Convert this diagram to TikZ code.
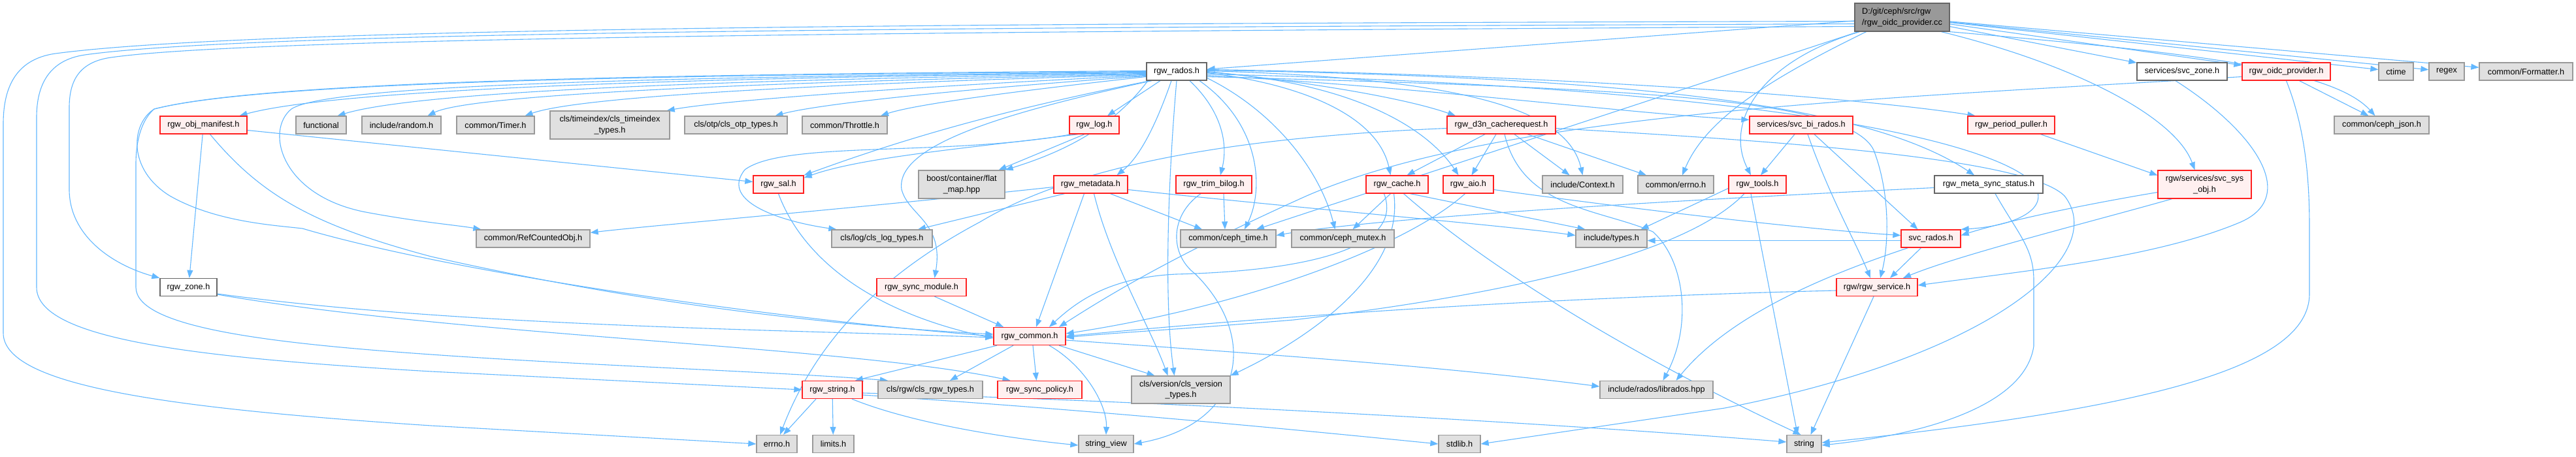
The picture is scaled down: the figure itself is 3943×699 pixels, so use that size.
\documentclass[tikz,border=0pt]{standalone}
\usepackage{fontspec}
\setmainfont{Liberation Sans}
\usetikzlibrary{arrows.meta}
\definecolor{edgec}{HTML}{63B8FF}
\definecolor{redfill}{HTML}{FFF0F0}
\definecolor{redline}{HTML}{FF2020}
\definecolor{extfill}{HTML}{E0E0E0}
\definecolor{extline}{HTML}{999999}
\definecolor{whiteline}{HTML}{666666}
\definecolor{rootfill}{HTML}{999999}
\pgfdeclarelayer{bg}
\pgfsetlayers{bg,main}
\begin{document}
\begin{tikzpicture}[x=1pt,y=-1pt,
  nbase/.style={line width=1.3pt, inner sep=0pt, align=center, font=\fontsize{12.7}{16.5}\selectfont, minimum height=27pt},
  redbox/.style={nbase, draw=redline, fill=redfill},
  extbox/.style={nbase, draw=extline, fill=extfill},
  whitebox/.style={nbase, draw=whiteline, fill=white},
  rootbox/.style={nbase, draw=whiteline, fill=rootfill, align=left},
  e/.style={draw=edgec, line width=1.1pt, -{Triangle[length=12pt,width=9pt]}}
]
\useasboundingbox (0,0) rectangle (3943,699);

% row A
\node[rootbox, minimum width=145pt, minimum height=43pt] (root) at (2911.5,26.5) {D:/git/ceph/src/rgw\\/rgw\_oidc\_provider.cc};
% row B
\node[whitebox, minimum width=92pt] (rados) at (1801,109.5) {rgw\_rados.h};
\node[whitebox, minimum width=138pt] (svczone) at (3340,109.5) {services/svc\_zone.h};
\node[redbox, minimum width=135pt] (oidch) at (3499.5,109.5) {rgw\_oidc\_provider.h};
\node[extbox, minimum width=53pt] (ctime) at (3667.5,109.5) {ctime};
\node[extbox, minimum width=54pt] (regex) at (3745,109.5) {regex};
\node[extbox, minimum width=143pt] (formatter) at (3866.5,109.5) {common/Formatter.h};
% row C
\node[redbox, minimum width=133pt] (manifest) at (311.5,191.5) {rgw\_obj\_manifest.h};
\node[extbox, minimum width=77pt] (functional) at (491.5,191.5) {functional};
\node[extbox, minimum width=121pt] (random) at (614.5,191.5) {include/random.h};
\node[extbox, minimum width=119pt] (timer) at (758.5,191.5) {common/Timer.h};
\node[extbox, minimum width=183pt, minimum height=43pt] (timeindex) at (933.5,191.5) {cls/timeindex/cls\_timeindex\\\_types.h};
\node[extbox, minimum width=157pt] (otp) at (1126.5,191.5) {cls/otp/cls\_otp\_types.h};
\node[extbox, minimum width=130pt] (throttle) at (1293,191.5) {common/Throttle.h};
\node[redbox, minimum width=76pt] (log) at (1675,191.5) {rgw\_log.h};
\node[redbox, minimum width=166pt] (d3n) at (2298,191.5) {rgw\_d3n\_cacherequest.h};
\node[redbox, minimum width=158pt] (birados) at (2757,191.5) {services/svc\_bi\_rados.h};
\node[redbox, minimum width=133pt] (puller) at (3078.5,191.5) {rgw\_period\_puller.h};
\node[extbox, minimum width=145pt] (json) at (3645.5,191.5) {common/ceph\_json.h};
% row D
\node[redbox, minimum width=77pt] (sal) at (1191.5,282.5) {rgw\_sal.h};
\node[extbox, minimum width=132pt, minimum height=43pt] (flatmap) at (1472,282.5) {boost/container/flat\\\_map.hpp};
\node[redbox, minimum width=113pt] (metadata) at (1669.5,282.5) {rgw\_metadata.h};
\node[redbox, minimum width=116pt] (trim) at (1858,282.5) {rgw\_trim\_bilog.h};
\node[redbox, minimum width=95pt] (cache) at (2138.5,282.5) {rgw\_cache.h};
\node[redbox, minimum width=77pt] (aio) at (2247.5,282.5) {rgw\_aio.h};
\node[extbox, minimum width=123pt] (context) at (2422.5,282.5) {include/Context.h};
\node[extbox, minimum width=116pt] (cerrno) at (2565,282.5) {common/errno.h};
\node[redbox, minimum width=88pt] (tools) at (2690,282.5) {rgw\_tools.h};
\node[whitebox, minimum width=166pt] (metasync) at (3044,282.5) {rgw\_meta\_sync\_status.h};
\node[redbox, minimum width=143pt, minimum height=43pt] (sysobj) at (3374.5,282.5) {rgw/services/svc\_sys\\\_obj.h};
% row E
\node[extbox, minimum width=174pt] (refcnt) at (816,365.5) {common/RefCountedObj.h};
\node[extbox, minimum width=154pt] (clslog) at (1350,365.5) {cls/log/cls\_log\_types.h};
\node[extbox, minimum width=146pt] (cephtime) at (1880,365.5) {common/ceph\_time.h};
\node[extbox, minimum width=157pt] (mutex) at (2055.5,365.5) {common/ceph\_mutex.h};
\node[extbox, minimum width=109pt] (types) at (2466.5,365.5) {include/types.h};
\node[redbox, minimum width=91pt] (svcrados) at (2955.5,365.5) {svc\_rados.h};
% row F
\node[whitebox, minimum width=87pt] (zone) at (288.5,440) {rgw\_zone.h};
\node[redbox, minimum width=137pt] (syncmod) at (1410.5,440) {rgw\_sync\_module.h};
\node[redbox, minimum width=124pt] (service) at (2873,440) {rgw/rgw\_service.h};
% row G
\node[redbox, minimum width=110pt] (common) at (1576,515) {rgw\_common.h};
% row H
\node[redbox, minimum width=92pt] (stringh) at (1274,597) {rgw\_string.h};
\node[extbox, minimum width=160pt] (clsrgw) at (1424,597) {cls/rgw/cls\_rgw\_types.h};
\node[redbox, minimum width=129pt] (policy) at (1591.5,597) {rgw\_sync\_policy.h};
\node[extbox, minimum width=151pt, minimum height=42pt] (version) at (1807.5,597) {cls/version/cls\_version\\\_types.h};
\node[extbox, minimum width=173pt] (librados) at (2535.5,597) {include/rados/librados.hpp};
% row I
\node[extbox, minimum width=62pt] (errno) at (1189,680) {errno.h};
\node[extbox, minimum width=63pt] (limits) at (1275.5,680) {limits.h};
\node[extbox, minimum width=84pt] (strview) at (1693,680) {string\_view};
\node[extbox, minimum width=64pt] (stdlib) at (2234,680) {stdlib.h};
\node[extbox, minimum width=53pt] (string) at (2761.5,680) {string};

\begin{pgfonlayer}{bg}
\fill[white] (0,0) rectangle (3943,699);
% root
\draw[e] (root) -- (rados);
\draw[e] (root) -- (svczone);
\draw[e] (root) -- (oidch);
\draw[e] (root) -- (ctime);
\draw[e] (root) -- (regex);
\draw[e] (root) -- (formatter);
\draw[e] (root) -- (cephtime);
\draw[e] (root.south east) .. controls (3350,80) and (3570,105) .. ([xshift=-10pt]json.north);
\draw[e] ([xshift=-65pt]root.south) .. controls (2690,95) and (2640,190) .. ([xshift=-10pt]tools.north);
\draw[e] ([xshift=-55pt]root.south) .. controls (2700,125) and (2610,185) .. ([xshift=10pt]cerrno.north);
\draw[e] ([xshift=60pt]root.south) .. controls (3180,100) and (3330,180) .. ([xshift=-15pt]sysobj.north);
\draw[e] ([yshift=-14pt]root.west) .. controls (1600,48) and (400,55) .. (170,88) .. controls (120,95) and (106,125) .. (106,165) -- (106,290) .. controls (106,360) and (170,405) .. (zone.north west);
\draw[e] ([yshift=-10pt]root.west) .. controls (1600,42) and (400,46) .. (130,84) .. controls (75,92) and (56,130) .. (56,180) -- (56,440) .. controls (56,520) and (300,548) .. (660,569) -- (stringh.west);
\draw[e] ([yshift=-6pt]root.west) .. controls (1600,36) and (400,40) .. (85,82) .. controls (20,91) and (5,140) .. (5,190) -- (5,510) .. controls (5,590) and (250,625) .. (660,652) -- (errno.west);
% rgw_rados.h
\draw[e] ([yshift=-2pt]rados.west) .. controls (1100,118) and (520,135) .. ([xshift=55pt]manifest.north);
\draw[e] ([yshift=-3pt]rados.west) .. controls (1100,122) and (640,140) .. ([xshift=25pt]functional.north);
\draw[e] ([yshift=-4pt]rados.west) .. controls (1150,126) and (720,145) .. ([xshift=40pt]random.north);
\draw[e] ([yshift=-5pt]rados.west) .. controls (1200,130) and (880,150) .. ([xshift=45pt]timer.north);
\draw[e] ([yshift=-6pt]rados.west) .. controls (1350,135) and (1100,155) .. ([xshift=-5pt]timeindex.north east);
\draw[e] ([yshift=-7pt]rados.west) .. controls (1450,138) and (1250,160) .. ([xshift=60pt]otp.north);
\draw[e] ([yshift=-8pt]rados.west) .. controls (1550,140) and (1400,160) .. ([xshift=55pt]throttle.north);
\draw[e] ([xshift=-25pt]rados.south) -- ([xshift=20pt]log.north);
\draw[e] ([xshift=-8pt]rados.south) .. controls (1770,190) and (1745,240) .. ([xshift=40pt]metadata.north);
\draw[e] ([xshift=20pt]rados.south) .. controls (1870,170) and (1880,220) .. ([xshift=10pt]trim.north);
\draw[e] ([xshift=35pt]rados.south) .. controls (1930,190) and (1935,290) .. ([xshift=25pt]cephtime.north);
\draw[e] (rados.south) .. controls (1790,250) and (1780,450) .. ([xshift=-10pt]version.north);
\draw[e] ([yshift=-2pt]rados.east) .. controls (2000,130) and (2110,180) .. ([xshift=-10pt]cache.north);
\draw[e] ([yshift=-1pt]rados.east) .. controls (2060,125) and (2180,190) .. ([xshift=-15pt]aio.north);
\draw[e] (rados.east) .. controls (2000,125) and (2150,150) .. ([xshift=-70pt]d3n.north);
\draw[e] ([yshift=1pt]rados.east) .. controls (2250,120) and (2400,170) .. (context.north);
\draw[e] ([yshift=-6pt]rados.east) .. controls (2200,135) and (2500,175) .. ([yshift=8pt]birados.west);
\draw[e] ([yshift=2pt]rados.east) .. controls (2500,118) and (2860,160) .. ([xshift=-22pt]metasync.north);
\draw[e] ([yshift=3pt]rados.east) .. controls (2400,115) and (2850,150) .. ([xshift=-55pt]puller.north);
\draw[e] ([yshift=-8pt]rados.east) .. controls (2500,135) and (2830,150) .. (2868,230) .. controls (2895,300) and (2890,380) .. ([xshift=5pt]service.north);
\draw[e] ([yshift=-4pt]rados.east) .. controls (2600,130) and (3000,200) .. (3100,270) .. controls (3150,310) and (3100,345) .. (svcrados.north east);
\draw[e] ([yshift=-10pt]rados.east) .. controls (1950,170) and (2020,260) .. ([xshift=-12pt]mutex.north);
\draw[e] ([xshift=-44pt]rados.south) .. controls (1700,200) and (1620,235) .. (flatmap.north east);
\draw[e] ([xshift=-40pt]rados.south) .. controls (1500,175) and (1350,225) .. (sal.north east);
\draw[e] ([xshift=-38pt]rados.south) .. controls (1550,170) and (1370,220) .. (1380,290) .. controls (1390,330) and (1445,340) .. ([xshift=20pt]syncmod.north);
\draw[e] ([yshift=-1pt]rados.west) .. controls (1000,118) and (500,130) .. (446,167) .. controls (405,200) and (430,300) .. (560,325) .. controls (640,340) and (700,345) .. ([xshift=8pt]refcnt.north west);
\draw[e] (rados.west) .. controls (1000,115) and (400,125) .. (236,167) .. controls (200,190) and (195,260) .. (260,300) .. controls (330,340) and (420,345) .. (463,350) .. controls (700,420) and (1200,490) .. (common.west);
\draw[e] ([yshift=1pt]rados.west) .. controls (1000,114) and (400,124) .. (236,167) .. controls (215,185) and (208,220) .. (208,250) -- (208,440) .. controls (208,500) and (400,525) .. (660,543) .. controls (900,560) and (1200,570) .. ([xshift=-65pt]clsrgw.north);
% rgw_log.h
\draw[e] ([xshift=-25pt]log.south) .. controls (1500,225) and (1320,240) .. ([yshift=-4pt]sal.north east);
\draw[e] ([xshift=-15pt]log.south) -- ([xshift=-10pt]flatmap.north east);
\draw[e] ([xshift=-35pt]log.south) .. controls (1450,240) and (1200,215) .. (1140,260) .. controls (1100,310) and (1200,340) .. ([xshift=8pt]clslog.north west);
% rgw_metadata.h
\draw[e] ([yshift=-4pt]metadata.west) .. controls (1300,320) and (1000,345) .. ([yshift=-5pt]refcnt.north east);
\draw[e] ([xshift=-40pt]metadata.south) -- ([xshift=55pt]clslog.north);
\draw[e] ([xshift=-10pt]metadata.south) -- ([xshift=10pt]common.north);
\draw[e] ([xshift=5pt]metadata.south) .. controls (1700,400) and (1760,500) .. ([xshift=-20pt]version.north);
\draw[e] ([xshift=30pt]metadata.south) -- ([xshift=-40pt]cephtime.north);
\draw[e] ([yshift=-8pt]metadata.east) .. controls (2000,320) and (2300,345) .. ([yshift=5pt]types.west);
% rgw_trim_bilog.h
\draw[e] ([xshift=15pt]trim.south) -- ([xshift=-5pt]cephtime.north);
\draw[e] ([xshift=-20pt]trim.south) .. controls (1790,330) and (1790,390) .. (1830,420) .. controls (1930,520) and (1900,650) .. (strview.east);
% rgw_cache.h
\draw[e] ([xshift=-10pt]cache.south) -- ([xshift=15pt]mutex.north);
\draw[e] ([xshift=-20pt]cache.south) .. controls (2150,380) and (2000,415) .. (1800,420) .. controls (1700,425) and (1650,460) .. ([xshift=30pt]common.north);
\draw[e] ([xshift=-5pt]cache.south) .. controls (2150,420) and (2000,520) .. (version.north east);
\draw[e] ([xshift=20pt]cache.south) -- ([xshift=-40pt]types.north);
\draw[e] ([xshift=10pt]cache.south) .. controls (2300,430) and (2550,570) .. ([xshift=-5pt]string.north);
% rgw_aio.h
\draw[e] ([xshift=-5pt]aio.south) .. controls (2150,380) and (1900,470) .. ([yshift=4pt]common.east);
\draw[e] ([yshift=-8pt]aio.east) .. controls (2500,320) and (2750,350) .. ([yshift=5pt]svcrados.west);
% rgw_d3n_cacherequest.h
\draw[e] ([xshift=-25pt]d3n.south) -- ([xshift=15pt]cache.north);
\draw[e] ([xshift=-8pt]d3n.south) -- ([xshift=5pt]aio.north);
\draw[e] ([xshift=20pt]d3n.south) -- ([xshift=-20pt]context.north);
\draw[e] ([xshift=40pt]d3n.south) -- ([xshift=-45pt]cerrno.north);
\draw[e] ([yshift=-5pt]d3n.west) .. controls (1900,210) and (1650,250) .. (1500,340) .. controls (1350,420) and (1250,520) .. ([xshift=5pt]errno.north);
\draw[e] ([xshift=5pt]d3n.south) .. controls (2330,320) and (2450,320) .. (2530,355) .. controls (2580,400) and (2590,500) .. ([xshift=10pt]librados.north);
\draw[e] ([yshift=-5pt]d3n.east) .. controls (2700,215) and (3100,240) .. (3160,300) .. controls (3230,390) and (3050,545) .. (2640,625) -- (stdlib.east);
% services/svc_bi_rados.h
\draw[e] ([xshift=-10pt]birados.south) -- ([xshift=5pt]tools.north);
\draw[e] ([xshift=10pt]birados.south) .. controls (2800,300) and (2840,370) .. ([xshift=-10pt]service.north);
\draw[e] ([xshift=20pt]birados.south) -- ([xshift=-20pt]svcrados.north);
% rgw_tools.h
\draw[e] ([yshift=-6pt]tools.west) -- ([xshift=45pt]types.north);
\draw[e] ([xshift=-20pt]tools.south) .. controls (2600,370) and (2400,440) .. (1980,490) .. controls (1800,505) and (1700,510) .. ([yshift=-2pt]common.east);
\draw[e] ([xshift=-10pt]tools.south) -- ([xshift=-10pt]string.north);
% rgw_meta_sync_status.h
\draw[e] ([yshift=-5pt]metasync.west) .. controls (2500,310) and (2100,335) .. ([yshift=5pt]cephtime.east);
\draw[e] ([xshift=10pt]metasync.south) .. controls (3090,360) and (3113,380) .. (3113,430) -- (3113,530) .. controls (3100,620) and (2950,665) .. ([yshift=-2pt]string.east);
% rgw_period_puller.h
\draw[e] ([xshift=45pt]puller.south) -- ([yshift=14pt]sysobj.west);
% services/svc_zone.h
\draw[e] ([xshift=-10pt]svczone.south) .. controls (3450,200) and (3520,300) .. (3430,340) .. controls (3300,395) and (3100,415) .. ([yshift=3pt]service.east);
% rgw/services/svc_sys_obj.h
\draw[e] ([yshift=-12pt]sysobj.west) .. controls (3150,320) and (3050,345) .. ([yshift=5pt]svcrados.east);
\draw[e] ([xshift=-50pt]sysobj.south) .. controls (3200,340) and (3000,390) .. ([xshift=40pt]service.north);
% svc_rados.h
\draw[e] ([yshift=-3pt]svcrados.west) -- ([yshift=-3pt]types.east);
\draw[e] ([xshift=-15pt]svcrados.south) -- ([xshift=20pt]service.north);
\draw[e] ([xshift=-35pt]svcrados.south) .. controls (2800,420) and (2650,480) .. ([xshift=30pt]librados.north);
% rgw_oidc_provider.h
\draw[e] ([xshift=20pt]oidch.south) -- ([xshift=-20pt]json.north);
\draw[e] (oidch.south) .. controls (3530,200) and (3535,280) .. (3535,350) -- (3535,450) .. controls (3535,560) and (3300,625) .. ([yshift=2pt]string.east);
\draw[e] ([yshift=-8pt]oidch.west) .. controls (2900,150) and (2300,170) .. (2000,300) .. controls (1800,390) and (1700,450) .. ([xshift=45pt]common.north);
% rgw/rgw_service.h
\draw[e] ([xshift=-5pt]service.south) -- ([xshift=10pt]string.north);
\draw[e] ([yshift=-5pt]service.west) .. controls (2400,455) and (2000,480) .. (common.east);
% misc
\draw[e] ([xshift=20pt]syncmod.south) -- ([xshift=-40pt]common.north);
\draw[e] (sal.south) .. controls (1230,400) and (1340,480) .. ([yshift=-3pt]common.west);
\draw[e] (manifest) -- (zone);
\draw[e] ([yshift=-8pt]manifest.east) -- ([yshift=4pt]sal.west);
\draw[e] ([xshift=10pt]manifest.south) .. controls (400,300) and (480,345) .. (660,393) .. controls (1000,470) and (1300,500) .. ([yshift=3pt]common.west);
\draw[e] ([yshift=-10pt]zone.east) .. controls (700,500) and (1200,505) .. ([yshift=-2pt]common.west);
\draw[e] ([yshift=-11pt]zone.east) .. controls (700,515) and (1300,530) .. ([xshift=-45pt]policy.north);
% rgw_common.h
\draw[e] ([xshift=-50pt]common.south) -- ([xshift=35pt]stringh.north);
\draw[e] ([xshift=-25pt]common.south) -- ([xshift=30pt]clsrgw.north);
\draw[e] ([xshift=5pt]common.south) -- ([xshift=-5pt]policy.north);
\draw[e] ([xshift=30pt]common.south) .. controls (1660,560) and (1695,620) .. (strview.north);
\draw[e] ([xshift=45pt]common.south) -- ([xshift=-40pt]version.north);
\draw[e] ([yshift=-6pt]common.east) .. controls (1900,540) and (2200,560) .. ([yshift=5pt]librados.west);
% rgw_string.h
\draw[e] ([xshift=-25pt]stringh.south) -- ([xshift=10pt]errno.north);
\draw[e] (stringh) -- (limits);
\draw[e] ([xshift=30pt]stringh.south) .. controls (1400,650) and (1550,672) .. ([yshift=-2pt]strview.west);
\draw[e] ([yshift=-8pt]stringh.east) .. controls (1700,630) and (2000,660) .. (stdlib.west);
\draw[e] ([yshift=-5pt]stringh.east) .. controls (1800,615) and (2400,650) .. ([yshift=3pt]string.west);
\end{pgfonlayer}
\end{tikzpicture}
\end{document}
